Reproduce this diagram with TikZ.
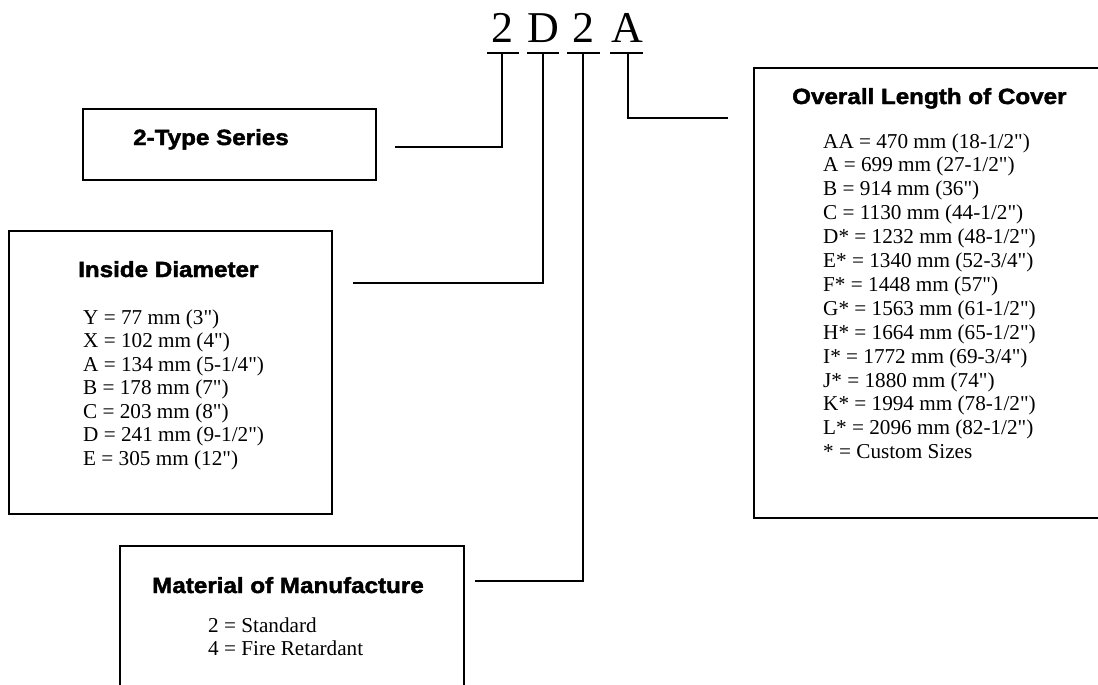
\documentclass[tikz,border=0pt]{standalone}
\usepackage{fontspec}
\newfontfamily\bodyfont{Liberation Serif}
\newfontfamily\titlefont{Liberation Sans}[FakeBold=2, FakeStretch=1.1]
\begin{document}
\begin{tikzpicture}[x=1pt,y=-1pt,
  boxst/.style={draw, line width=2.4pt, rectangle, inner sep=0pt, anchor=north west},
  conn/.style={line width=2pt},
  uline/.style={line width=2.2pt},
  ttl/.style={font=\titlefont\bfseries\fontsize{22}{26}\selectfont, anchor=base west, inner sep=0pt},
  bod/.style={font=\bodyfont\fontsize{21.2}{24}\selectfont, anchor=base west, inner sep=0pt},
  code/.style={font=\bodyfont\fontsize{44}{50}\selectfont, anchor=base, inner sep=0pt}]
\clip (0,0) rectangle (1098,685);

% boxes
\node[boxst, minimum width=293pt, minimum height=71pt] (b1) at (82,108) {};
\node[boxst, minimum width=323pt, minimum height=283pt] (b2) at (8,230) {};
\node[boxst, minimum width=360pt, minimum height=450pt] (b3) at (753,67) {};
\node[boxst, minimum width=344pt, minimum height=200pt] (b4) at (119,545) {};

% code letters
\node[code] (c1) at (502,43) {2};
\node[code] (c2) at (543,43) {D};
\node[code] (c3) at (583,43) {2};
\node[code] (c4) at (627,43) {A};

% underlines
\draw[uline] (487,53) -- (519,53);
\draw[uline] (527,53) -- (559,53);
\draw[uline] (567,53) -- (600,53);
\draw[uline] (610,53) -- (643,53);

% connectors
\coordinate (t1) at (502,53); \coordinate (e1) at (395,147);
\coordinate (t2) at (543,53); \coordinate (e2) at (353,283);
\coordinate (t3) at (583,53); \coordinate (e3) at (475,581);
\coordinate (t4) at (628,53); \coordinate (e4) at (728,118);
\draw[conn] (t1) |- (e1);
\draw[conn] (t2) |- (e2);
\draw[conn] (t3) |- (e3);
\draw[conn] (t4) |- (e4);

% titles
\node[ttl] (h1) at (133,145) {2-Type Series};
\node[ttl] (h2) at (78,277) {Inside Diameter};
\node[ttl] (h3) at (792,104) {Overall Length of Cover};
\node[ttl] (h4) at (152,593) {Material of Manufacture};

% inside diameter list
\foreach \t [count=\i from 0] in {{Y = 77 mm (3")},{X = 102 mm (4")},{A = 134 mm (5-1/4")},{B = 178 mm (7")},{C = 203 mm (8")},{D = 241 mm (9-1/2")},{E = 305 mm (12")}}
  \node[bod] (id\i) at (83,{324+23.5*\i}) {\t};

% overall length list
\foreach \t [count=\i from 0] in {{AA = 470 mm (18-1/2")},{A = 699 mm (27-1/2")},{B = 914 mm (36")},{C = 1130 mm (44-1/2")},{D* = 1232 mm (48-1/2")},{E* = 1340 mm (52-3/4")},{F* = 1448 mm (57")},{G* = 1563 mm (61-1/2")},{H* = 1664 mm (65-1/2")},{I* = 1772 mm (69-3/4")},{J* = 1880 mm (74")},{K* = 1994 mm (78-1/2")},{L* = 2096 mm (82-1/2")},{* = Custom Sizes}}
  \node[bod] (ol\i) at (823,{148+23.9*\i}) {\t};

% material list
\node[bod] (m0) at (208,632) {2 = Standard};
\node[bod] (m1) at (208,655) {4 = Fire Retardant};
\end{tikzpicture}
\end{document}
